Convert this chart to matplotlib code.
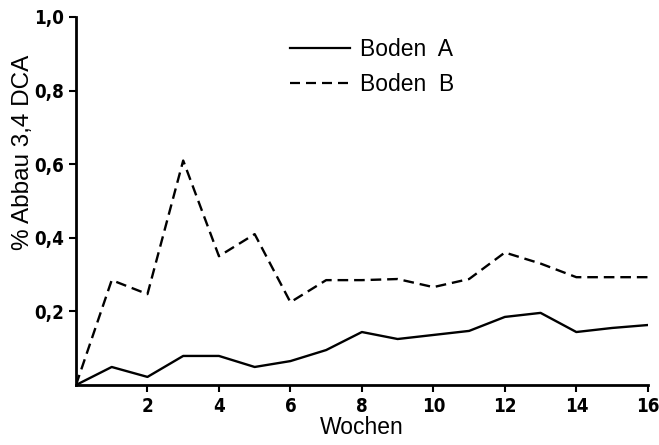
import matplotlib
matplotlib.use('Agg')
import matplotlib.pyplot as plt
from matplotlib.lines import Line2D

plt.rcParams['font.family'] = ['Liberation Sans', 'DejaVu Sans']

# Daten
wochen = list(range(0, 17))
boden_a = [0.0, 0.049, 0.022, 0.079, 0.079, 0.049, 0.065, 0.095, 0.144, 0.125,
           0.136, 0.147, 0.185, 0.196, 0.144, 0.155, 0.163]
boden_b = [0.0, 0.285, 0.247, 0.61, 0.35, 0.41, 0.225, 0.285, 0.285, 0.288,
           0.266, 0.288, 0.36, 0.33, 0.293, 0.293, 0.293]
x_ticks = [2, 4, 6, 8, 10, 12, 14, 16]
y_ticks = [0.2, 0.4, 0.6, 0.8, 1.0]
y_labels = ['0,2', '0,4', '0,6', '0,8', '1,0']

fig = plt.figure(figsize=(6.59, 4.45), dpi=100)
ax = fig.add_axes([0.1153, 0.1348, 0.8677, 0.827])

ax.plot(wochen, boden_a, color='black', linewidth=1.7, linestyle='-')
ax.plot(wochen, boden_b, color='black', linewidth=1.7, linestyle=(0, (4.5, 2.5)))

ax.set_xlim(0, 16)
ax.set_ylim(0, 1.0)
ax.spines['top'].set_visible(False)
ax.spines['right'].set_visible(False)
ax.spines['left'].set_linewidth(2)
ax.spines['bottom'].set_linewidth(2)

tick_font = dict(family=['DejaVu Sans Condensed', 'DejaVu Sans'], stretch='condensed',
                 weight='bold', size=13.5)
ax.set_xticks(x_ticks)
ax.set_xticklabels([str(t) for t in x_ticks], fontdict=tick_font)
ax.set_yticks(y_ticks)
ax.set_yticklabels(y_labels, fontdict=tick_font)
ax.tick_params(axis='both', direction='out', length=5, width=1.5, color='black')

label_font = dict(family=['Liberation Sans', 'DejaVu Sans'], weight='normal', size=16.5)
ax.set_xlabel('Wochen', fontdict=label_font, labelpad=0)
ax.set_ylabel('% Abbau 3,4 DCA', fontdict={**label_font, 'size': 17.5})
ax.yaxis.set_label_coords(-0.073, 0.633)

# Legende
handles = [Line2D([], [], color='black', linewidth=1.6, linestyle='-'),
           Line2D([], [], color='black', linewidth=1.6, linestyle=(0, (4.5, 2.7)))]
ax.legend(handles, ['Boden  A', 'Boden  B'], loc='upper left',
          bbox_to_anchor=(0.339, 1.0), frameon=False,
          prop=dict(family=['Liberation Sans', 'DejaVu Sans'], size=16.5),
          handlelength=2.6, handletextpad=0.45, labelspacing=0.55)

fig.savefig('out.png', dpi=100)
